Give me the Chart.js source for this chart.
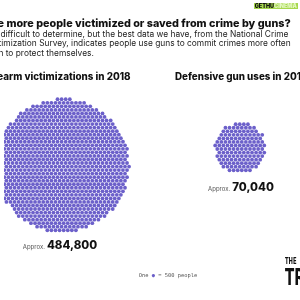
<!DOCTYPE html>
<html>
<head>
<meta charset="utf-8">
<script src="https://cdn.jsdelivr.net/npm/chart.js"></script>
<style>
  html, body { margin: 0; padding: 0; background: #fff; }
  #wrap { position: relative; width: 300px; height: 300px; overflow: hidden; font-family: Inter, "Noto Sans", sans-serif; color: #111; }
  #dots { position: absolute; left: 0; top: 0; }
  .t { position: absolute; white-space: nowrap; }
  .title { left: -15px; top: 17px; font-size: 10.8px; font-weight: 800; }
  .sub { left: -14px; top: 30px; font-size: 8.4px; line-height: 9.4px; color: #222; }
  .head { top: 71px; font-size: 9.8px; font-weight: 800; }
  .approx { font-size: 11.5px; font-weight: 800; transform: translateX(-50%); }
  .approx span { font-size: 6px; font-weight: 400; color: #555; margin-right: 2px; }
  .foot { left: 168px; top: 272px; transform: translateX(-50%); font-family: "DejaVu Sans Mono", monospace; font-size: 5.4px; color: #555; }
  .foot b { color: #6b5fc9; font-weight: 400; }
  .logo { left: 285px; top: 257px; font-family: "DejaVu Sans Condensed", "DejaVu Sans", sans-serif; font-weight: 700; line-height: 1; transform-origin: left top; transform: scaleX(0.65); }
  .wm { right: 2px; top: 3px; font-size: 5.5px; font-weight: 900; background: #a6d84e; padding: 0 1px; }
  .wm i { font-style: normal; color: #e4f7c2; }
</style>
</head>
<body>
<div id="wrap">
  <canvas id="dots" width="300" height="300"></canvas>
  <div class="t wm">GETHU<i>CINEMA</i></div>
  <div class="t title">Are more people victimized or saved from crime by guns?</div>
  <div class="t sub">It's difficult to determine, but the best data we have, from the National Crime<br>Victimization Survey, indicates people use guns to commit crimes more often<br>than to protect themselves.</div>
  <div class="t head" id="head0" style="left:-15px"></div>
  <div class="t head" id="head1" style="left:175px"></div>
  <div class="t approx" id="lab0" style="left:60px; top:238px"></div>
  <div class="t approx" id="lab1" style="left:241px; top:180px"></div>
  <div class="t foot">One <b>●</b> = 500 people</div>
  <div class="t logo"><div style="font-size:9px">THE</div><div style="font-size:23px">TR</div></div>
</div>
<script>
// data
const categories = ['Firearm victimizations in 2018', 'Defensive gun uses in 2018'];
const values = [484800, 70040];
const peoplePerDot = 500;

// layout of each cluster (pixels)
const centers = [[60, 166], [243, 148]];
const spacing = 4.2;

document.getElementById('head0').textContent = categories[0];
document.getElementById('head1').textContent = categories[1];
document.getElementById('lab0').innerHTML = '<span>Approx.</span>' + values[0].toLocaleString('en-US');
document.getElementById('lab1').innerHTML = '<span>Approx.</span>' + values[1].toLocaleString('en-US');

// hex grid (origin nudged off-centre so the edge is less polygonal),
// keep the n cells nearest the centre
function packDots(n, cx, cy) {
    const cells = [];
    const rowH = spacing * Math.sqrt(3) / 2;
    const reach = Math.sqrt(n) * spacing;
    const ox = spacing * 0.31, oy = rowH * 0.27;
    for (let r = -Math.ceil(reach / rowH); r <= Math.ceil(reach / rowH); r++) {
        const off = (Math.abs(r) % 2 === 0) ? 0 : spacing / 2;
        for (let c = -Math.ceil(reach / spacing); c <= Math.ceil(reach / spacing); c++) {
            const x = c * spacing + off + ox;
            const y = r * rowH + oy;
            cells.push({ x: x, y: y, d: x * x + y * y });
        }
    }
    cells.sort((a, b) => a.d - b.d);
    return cells.slice(0, n).map(p => ({ x: cx + p.x, y: cy + p.y }));
}

const datasets = values.map((v, i) => ({
    label: categories[i],
    data: packDots(Math.round(v / peoplePerDot), centers[i][0], centers[i][1]),
    pointRadius: 1.9,
    pointBackgroundColor: '#6c60ca',
    pointBorderWidth: 0
}));

new Chart(document.getElementById('dots'), {
    type: 'scatter',
    data: { datasets: datasets },
    options: {
        responsive: false,
        animation: false,
        layout: { padding: 0 },
        plugins: { legend: { display: false }, tooltip: { enabled: false } },
        scales: {
            x: { display: false, min: 0, max: 300 },
            y: { display: false, min: 0, max: 300, reverse: true }
        }
    }
});
</script>
</body>
</html>
